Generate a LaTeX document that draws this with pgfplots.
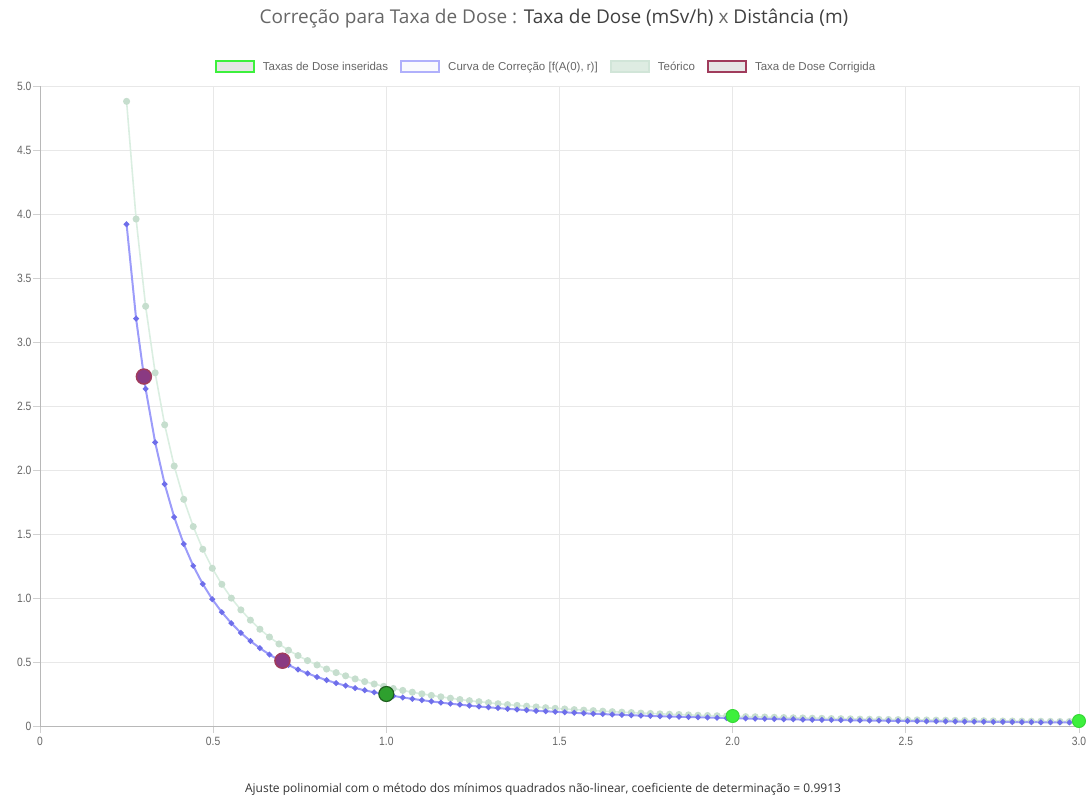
\documentclass[border=0pt]{standalone}
\usepackage{pgfplots}
\pgfplotsset{compat=1.18}
\usepackage{pgfplotstable}
\usepackage{fontspec}
\setmainfont{Liberation Sans}
\newfontfamily\titlefont{Open Sans}
\newfontfamily\tickfont[FakeStretch=0.86]{Liberation Sans}

\definecolor{gridgray}{HTML}{E8E8E8}
\definecolor{tickgray}{HTML}{D0D0D0}
\definecolor{axisgray}{HTML}{B8B8B8}
\definecolor{ticktext}{HTML}{666666}
\definecolor{blueline}{HTML}{9C9CFA}
\definecolor{bluemark}{HTML}{6E6EEA}
\definecolor{theoline}{HTML}{DAEEE1}
\definecolor{theomark}{HTML}{C6DECE}
\definecolor{inputgreen}{HTML}{3DF03D}
\definecolor{inputgreenD}{HTML}{2EA02E}
\definecolor{inputgreenB}{HTML}{1F5F1F}
\definecolor{corrfill}{HTML}{8A3A82}
\definecolor{corrdraw}{HTML}{A03C5C}
\definecolor{legfill}{HTML}{E6E6E6}

\pgfplotstableread{
x y
0.25 3.920
0.2775 3.182
0.305 2.634
0.3325 2.216
0.36 1.890
0.3875 1.632
0.415 1.422
0.4425 1.251
0.47 1.109
0.4975 0.990
0.525 0.889
0.5525 0.803
0.58 0.728
0.6075 0.664
0.635 0.608
0.6625 0.558
0.69 0.515
0.7175 0.476
0.745 0.441
0.7725 0.411
0.80 0.383
0.8275 0.358
0.855 0.335
0.8825 0.315
0.91 0.296
0.9375 0.279
0.965 0.263
0.9925 0.249
1.02 0.235
1.0475 0.223
1.075 0.212
1.1025 0.202
1.13 0.192
1.1575 0.183
1.185 0.174
1.2125 0.167
1.24 0.159
1.2675 0.152
1.295 0.146
1.3225 0.140
1.35 0.134
1.3775 0.129
1.405 0.124
1.4325 0.119
1.46 0.115
1.4875 0.111
1.515 0.107
1.5425 0.103
1.57 0.099
1.5975 0.096
1.625 0.093
1.6525 0.090
1.68 0.087
1.7075 0.084
1.735 0.081
1.7625 0.079
1.79 0.076
1.8175 0.074
1.845 0.072
1.8725 0.070
1.90 0.068
1.9275 0.066
1.955 0.064
1.9825 0.062
2.01 0.061
2.0375 0.059
2.065 0.057
2.0925 0.056
2.12 0.055
2.1475 0.053
2.175 0.052
2.2025 0.050
2.23 0.049
2.2575 0.048
2.285 0.047
2.3125 0.046
2.34 0.045
2.3675 0.044
2.395 0.043
2.4225 0.042
2.45 0.041
2.4775 0.040
2.505 0.039
2.5325 0.038
2.56 0.037
2.5875 0.037
2.615 0.036
2.6425 0.035
2.67 0.034
2.6975 0.034
2.725 0.033
2.7525 0.032
2.78 0.032
2.8075 0.031
2.835 0.030
2.8625 0.030
2.89 0.029
2.9175 0.029
2.945 0.028
2.9725 0.028
3.0 0.027
}\correcao

\pgfplotstableread{
x y
0.25 4.880
0.2775 3.961
0.305 3.279
0.3325 2.759
0.36 2.353
0.3875 2.031
0.415 1.771
0.4425 1.558
0.47 1.381
0.4975 1.232
0.525 1.107
0.5525 0.999
0.58 0.907
0.6075 0.827
0.635 0.756
0.6625 0.695
0.69 0.641
0.7175 0.592
0.745 0.550
0.7725 0.511
0.80 0.477
0.8275 0.445
0.855 0.417
0.8825 0.392
0.91 0.368
0.9375 0.347
0.965 0.328
0.9925 0.310
1.02 0.293
1.0475 0.278
1.075 0.264
1.1025 0.251
1.13 0.239
1.1575 0.228
1.185 0.217
1.2125 0.207
1.24 0.198
1.2675 0.190
1.295 0.182
1.3225 0.174
1.35 0.167
1.3775 0.161
1.405 0.155
1.4325 0.149
1.46 0.143
1.4875 0.138
1.515 0.133
1.5425 0.128
1.57 0.124
1.5975 0.120
1.625 0.116
1.6525 0.112
1.68 0.108
1.7075 0.105
1.735 0.101
1.7625 0.098
1.79 0.095
1.8175 0.092
1.845 0.090
1.8725 0.087
1.90 0.084
1.9275 0.082
1.955 0.080
1.9825 0.078
2.01 0.075
2.0375 0.073
2.065 0.072
2.0925 0.070
2.12 0.068
2.1475 0.066
2.175 0.064
2.2025 0.063
2.23 0.061
2.2575 0.060
2.285 0.058
2.3125 0.057
2.34 0.056
2.3675 0.054
2.395 0.053
2.4225 0.052
2.45 0.051
2.4775 0.050
2.505 0.049
2.5325 0.048
2.56 0.047
2.5875 0.046
2.615 0.045
2.6425 0.044
2.67 0.043
2.6975 0.042
2.725 0.041
2.7525 0.040
2.78 0.039
2.8075 0.039
2.835 0.038
2.8625 0.037
2.89 0.037
2.9175 0.036
2.945 0.035
2.9725 0.035
3.0 0.034
}\teorico

\begin{document}
\begin{tikzpicture}
\useasboundingbox (0,0) rectangle (1087bp,798bp);
\begin{axis}[
  scale only axis,
  width=1039bp, height=640bp,
  at={(40bp,72bp)}, anchor=south west,
  xmin=0, xmax=3, ymin=0, ymax=5,
  clip=false,
  axis lines=left,
  axis line style={-, draw=axisgray, line width=0.8bp},
  xtick={0,0.5,1,1.5,2,2.5,3},
  xticklabels={0,0.5,1.0,1.5,2.0,2.5,3.0},
  ytick={0,0.5,1,1.5,2,2.5,3,3.5,4,4.5,5},
  yticklabels={0,0.5,1.0,1.5,2.0,2.5,3.0,3.5,4.0,4.5,5.0},
  tick align=outside,
  major tick length=7bp,
  major tick style={draw=tickgray, line width=0.7bp},
  grid=major,
  major grid style={draw=gridgray, line width=0.7bp},
  /pgf/number format/assume math mode=true,
  tick label style={font=\tickfont\fontsize{12bp}{14bp}\selectfont, text=ticktext},
  xticklabel style={yshift=-1bp},
  yticklabel style={xshift=2bp},
  legend columns=4,
  legend style={
    at={(0.487,1)}, anchor=south, yshift=10bp,
    draw=none, fill=none,
    font=\fontsize{11.5bp}{13bp}\selectfont, text=ticktext,
    /tikz/every even column/.append style={column sep=10bp},
  },
  legend cell align=left,
]
\addlegendimage{legend image code/.code={\draw[draw=inputgreen, fill=legfill, line width=1.8bp] (0bp,-5.5bp) rectangle (38bp,5.5bp); \path (45bp,0bp);}}
\addlegendentry{Taxas de Dose inseridas}
\addlegendimage{legend image code/.code={\draw[draw=blueline!80, fill=legfill!90!blue!10, line width=1.8bp] (0bp,-5.5bp) rectangle (38bp,5.5bp); \path (45bp,0bp);}}
\addlegendentry{{Curva de Correção [f(A(0), r)]}}
\addlegendimage{legend image code/.code={\draw[draw=theomark!80, fill=theoline!70!legfill, line width=1.8bp] (0bp,-5.5bp) rectangle (38bp,5.5bp); \path (45bp,0bp);}}
\addlegendentry{Teórico}
\addlegendimage{legend image code/.code={\draw[draw=corrdraw, fill=legfill, line width=1.8bp] (0bp,-5.5bp) rectangle (38bp,5.5bp); \path (45bp,0bp);}}
\addlegendentry{Taxa de Dose Corrigida}

\addplot[forget plot, color=theoline, line width=1.6bp, mark=*, mark size=2.7bp,
  mark options={draw=theomark, fill=theomark}] table[x=x,y=y] {\teorico};
\addplot[forget plot, color=blueline, line width=2bp, mark=*, mark size=1.7bp,
  mark options={draw=bluemark, fill=bluemark}] table[x=x,y=y] {\correcao};
\addplot[forget plot, only marks, mark=*, mark size=6.5bp,
  mark options={draw=inputgreen!90!black, fill=inputgreen, line width=1bp}] coordinates {(2.0,0.078) (3.0,0.039)};
\addplot[forget plot, only marks, mark=*, mark size=7.5bp,
  mark options={draw=inputgreenB, fill=inputgreenD, line width=1.2bp}] coordinates {(1.0,0.25)};
\addplot[forget plot, only marks, mark=*, mark size=7.5bp,
  mark options={draw=corrdraw, fill=corrfill, line width=1.5bp}] coordinates {(0.3,2.73) (0.7,0.51)};
\end{axis}
\node[font=\titlefont\fontsize{19bp}{22bp}\selectfont, text=ticktext] at (554bp,779bp)
  {Correção para Taxa de Dose : \textcolor{black!75}{Taxa de Dose (mSv/h)} x \textcolor{black!75}{Distância (m)}};
\node[font=\titlefont\fontsize{12bp}{14bp}\selectfont, text=black!80] at (543bp,9bp)
  {Ajuste polinomial com o método dos mínimos quadrados não-linear, coeficiente de determinação = 0.9913};
\end{tikzpicture}
\end{document}
